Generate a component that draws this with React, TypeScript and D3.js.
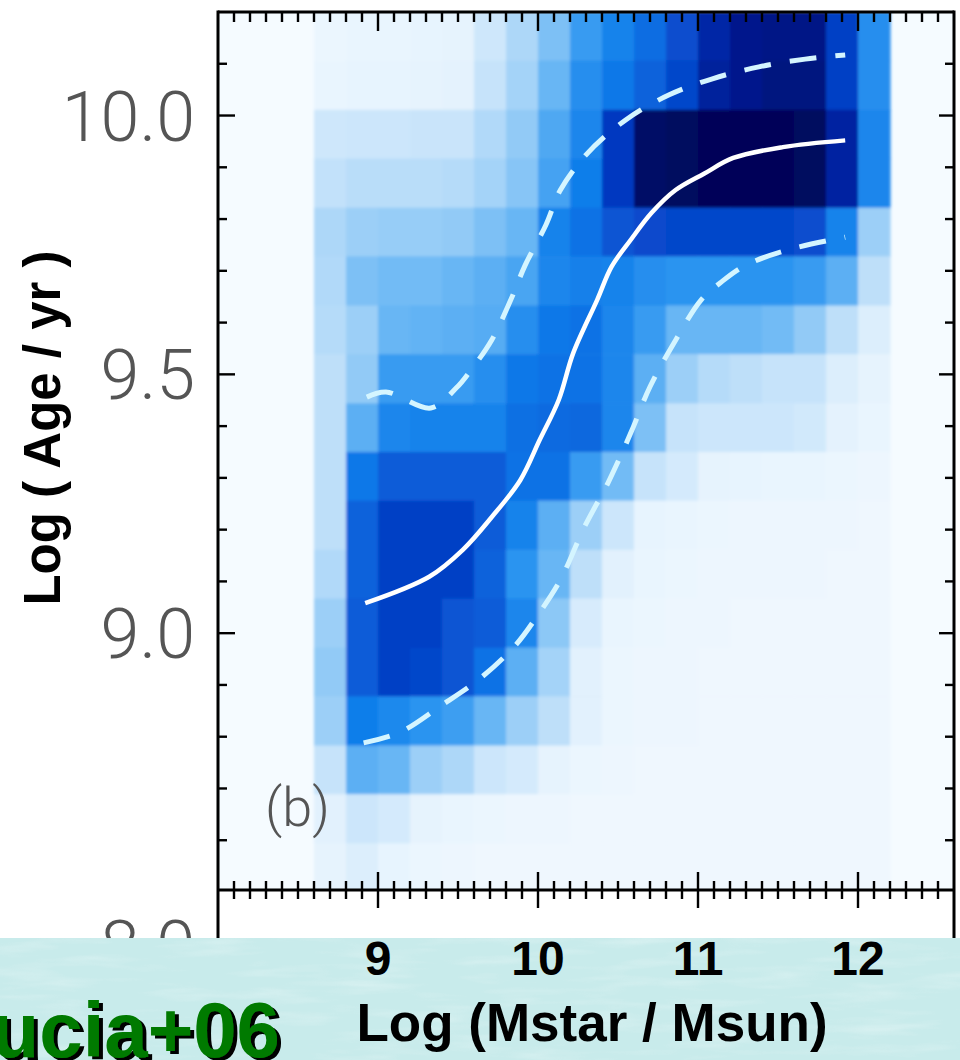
import React from 'react';
import * as d3 from 'd3';

// ---- data -------------------------------------------------------------
// stellar-mass bin edges, log(Mstar/Msun)
const massEdges = [8.6, 8.8, 9.0, 9.2, 9.4, 9.6, 9.8, 10.0, 10.2, 10.4, 10.6, 10.8, 11.0, 11.2, 11.4, 11.6, 11.8, 12.0, 12.2];
// age bin edges, log(Age/yr), from top (old) to bottom (young)
const ageEdges = [10.2, 10.106, 10.011, 9.917, 9.822, 9.728, 9.633, 9.539, 9.444, 9.35, 9.256, 9.161, 9.067, 8.972, 8.878, 8.783, 8.689, 8.594, 8.5];
// normalised density per cell, rows follow ageEdges (top to bottom), columns follow massEdges
const density = [
  [0.05, 0.06, 0.06, 0.07, 0.08, 0.17, 0.26, 0.36, 0.48, 0.56, 0.64, 0.74, 0.85, 0.9, 0.91, 0.91, 0.78, 0.52],
  [0.06, 0.07, 0.07, 0.08, 0.09, 0.2, 0.28, 0.4, 0.52, 0.6, 0.68, 0.76, 0.87, 0.9, 0.92, 0.92, 0.78, 0.52],
  [0.17, 0.18, 0.18, 0.19, 0.19, 0.25, 0.32, 0.44, 0.55, 0.8, 0.96, 0.97, 0.98, 0.98, 0.98, 0.97, 0.86, 0.55],
  [0.21, 0.23, 0.23, 0.23, 0.24, 0.28, 0.34, 0.46, 0.58, 0.8, 0.96, 0.97, 0.98, 0.98, 0.98, 0.97, 0.86, 0.55],
  [0.26, 0.3, 0.31, 0.31, 0.32, 0.36, 0.4, 0.56, 0.62, 0.72, 0.75, 0.76, 0.76, 0.76, 0.76, 0.74, 0.56, 0.3],
  [0.25, 0.36, 0.38, 0.38, 0.4, 0.42, 0.45, 0.55, 0.57, 0.56, 0.52, 0.5, 0.5, 0.5, 0.5, 0.48, 0.42, 0.22],
  [0.24, 0.3, 0.4, 0.41, 0.42, 0.43, 0.52, 0.6, 0.62, 0.55, 0.48, 0.4, 0.4, 0.4, 0.38, 0.32, 0.22, 0.12],
  [0.22, 0.32, 0.48, 0.48, 0.48, 0.52, 0.6, 0.62, 0.62, 0.55, 0.42, 0.3, 0.24, 0.22, 0.2, 0.2, 0.12, 0.08],
  [0.22, 0.42, 0.55, 0.56, 0.56, 0.56, 0.63, 0.65, 0.66, 0.55, 0.36, 0.2, 0.18, 0.18, 0.18, 0.16, 0.09, 0.06],
  [0.22, 0.6, 0.7, 0.7, 0.7, 0.7, 0.62, 0.62, 0.48, 0.38, 0.2, 0.15, 0.08, 0.07, 0.06, 0.06, 0.05, 0.04],
  [0.22, 0.68, 0.78, 0.78, 0.78, 0.7, 0.56, 0.42, 0.3, 0.18, 0.07, 0.06, 0.05, 0.04, 0.04, 0.04, 0.04, 0.03],
  [0.25, 0.68, 0.78, 0.78, 0.78, 0.68, 0.5, 0.4, 0.22, 0.1, 0.06, 0.05, 0.04, 0.04, 0.04, 0.04, 0.03, 0.03],
  [0.3, 0.7, 0.78, 0.78, 0.72, 0.7, 0.55, 0.33, 0.14, 0.06, 0.05, 0.04, 0.04, 0.03, 0.03, 0.03, 0.03, 0.03],
  [0.32, 0.7, 0.78, 0.76, 0.72, 0.62, 0.42, 0.28, 0.1, 0.05, 0.04, 0.04, 0.03, 0.03, 0.03, 0.03, 0.03, 0.03],
  [0.3, 0.58, 0.54, 0.5, 0.47, 0.4, 0.3, 0.22, 0.1, 0.05, 0.04, 0.04, 0.03, 0.03, 0.03, 0.03, 0.03, 0.03],
  [0.2, 0.42, 0.4, 0.3, 0.26, 0.18, 0.15, 0.08, 0.05, 0.04, 0.03, 0.03, 0.03, 0.03, 0.03, 0.03, 0.03, 0.03],
  [0.1, 0.18, 0.15, 0.08, 0.06, 0.05, 0.04, 0.04, 0.03, 0.03, 0.03, 0.03, 0.03, 0.03, 0.03, 0.03, 0.03, 0.03],
  [0.08, 0.12, 0.07, 0.05, 0.04, 0.03, 0.03, 0.03, 0.03, 0.03, 0.03, 0.03, 0.03, 0.03, 0.03, 0.03, 0.03, 0.03],
];

// median relation
const medianMass = [8.92, 9.32, 9.53, 9.71, 9.89, 10.01, 10.13, 10.22, 10.37, 10.46, 10.58, 10.71, 10.86, 11.04, 11.22, 11.53, 11.92];
const medianAge = [9.058, 9.109, 9.161, 9.224, 9.296, 9.373, 9.451, 9.541, 9.644, 9.708, 9.76, 9.812, 9.856, 9.888, 9.918, 9.939, 9.952];
// upper percentile
const upperMass = [8.93, 9.05, 9.33, 9.49, 9.58, 9.71, 9.83, 9.92, 10.05, 10.14, 10.3, 10.55, 10.82, 11.09, 11.38, 11.67, 11.92];
const upperAge = [9.456, 9.466, 9.435, 9.474, 9.508, 9.566, 9.644, 9.711, 9.789, 9.856, 9.924, 9.992, 10.04, 10.071, 10.094, 10.109, 10.117];
// lower percentile
const lowerMass = [8.91, 9.14, 9.39, 9.64, 9.86, 9.99, 10.14, 10.29, 10.44, 10.58, 10.7, 10.86, 11.02, 11.14, 11.3, 11.58, 11.92];
const lowerAge = [8.788, 8.809, 8.859, 8.913, 8.977, 9.031, 9.103, 9.205, 9.292, 9.387, 9.476, 9.566, 9.644, 9.677, 9.711, 9.742, 9.765];

// ticks
const xMajorTicks = [9, 10, 11, 12];
const xTickLabels = ['9', '10', '11', '12'];
const yMajorTicks = [10.0, 9.5, 9.0];
const yTickLabels = ['10.0', '9.5', '9.0'];

// colour map
const colorStops = [0, 0.1, 0.2, 0.3, 0.4, 0.5, 0.6, 0.7, 0.8, 0.9, 1];
const colorValues = ['#f4faff', '#e2f1fd', '#c6e3fa', '#9ccff7', '#68b6f4', '#2c94f0', '#0a78e8', '#085cd8', '#0538c0', '#02168c', '#00004c'];

export default function App() {
  const x = d3.scaleLinear().domain([8.0, 12.6]).range([218, 954]);
  const y = d3.scaleLinear().domain([8.5, 10.2]).range([892, 12]);
  const color = d3.scaleLinear<string>().domain(colorStops).range(colorValues).interpolate(d3.interpolateRgb).clamp(true);

  const L = x(8.0), R = x(12.6), T = y(10.2);
  const axisY = 890;

  const line = d3.line<[number, number]>().x(d => x(d[0])).y(d => y(d[1])).curve(d3.curveCatmullRom.alpha(0.5));
  const med = line(medianMass.map((m, i) => [m, medianAge[i]]));
  const up = line(upperMass.map((m, i) => [m, upperAge[i]]));
  const lo = line(lowerMass.map((m, i) => [m, lowerAge[i]]));

  const xMinor = d3.range(81, 126).map(v => v / 10).filter(v => !xMajorTicks.includes(v));
  const yMinor = d3.range(86, 102).map(v => v / 10).filter(v => !yMajorTicks.includes(v));

  const cells: React.ReactNode[] = [];
  density.forEach((row, r) => {
    row.forEach((v, c) => {
      const x0 = x(massEdges[c]), x1 = x(massEdges[c + 1]);
      const y0 = y(ageEdges[r]), y1 = y(ageEdges[r + 1]);
      cells.push(<rect key={`${r}-${c}`} x={x0} y={y0} width={x1 - x0 + 0.6} height={y1 - y0 + 0.6} fill={color(v)} />);
    });
  });

  const lightFont = 'Roboto, Lato, "DejaVu Sans", sans-serif';
  const boldFont = '"Liberation Sans", Arial, Helvetica, sans-serif';

  return (
    <svg width={960} height={1060} style={{ position: 'absolute', left: 0, top: 0, display: 'block' }}>
      <defs>
        <clipPath id="plotClip">
          <rect x={L} y={T} width={R - L} height={axisY - T} />
        </clipPath>
        <filter id="soft" x="-5%" y="-5%" width="110%" height="110%">
          <feGaussianBlur stdDeviation="1.6" />
        </filter>
        <filter id="paper" x="0" y="0" width="100%" height="100%">
          <feTurbulence type="fractalNoise" baseFrequency="0.012 0.09" numOctaves="3" seed="4" result="n" />
          <feColorMatrix in="n" type="matrix" values="0 0 0 0 1  0 0 0 0 1  0 0 0 0 1  0 0 0 1.6 -0.75" />
        </filter>
        <filter id="shadow" x="-10%" y="-10%" width="130%" height="130%">
          <feDropShadow dx="4" dy="3" stdDeviation="0.3" floodColor="#000" floodOpacity="1" />
        </filter>
      </defs>
      <rect x={0} y={0} width={960} height={1060} fill="#ffffff" />

      {/* plot background and heat map */}
      <rect x={L} y={T} width={R - L} height={axisY - T} fill="#f5fbff" />
      <g clipPath="url(#plotClip)">
        <g filter="url(#soft)">{cells}</g>
      </g>

      {/* percentile and median lines */}
      <g clipPath="url(#plotClip)">
        <path d={up || ''} fill="none" stroke="#d4f5ff" strokeWidth={5} strokeDasharray="27 19" strokeLinecap="butt" />
        <path d={lo || ''} fill="none" stroke="#d4f5ff" strokeWidth={5} strokeDasharray="27 19" strokeLinecap="butt" />
        <path d={med || ''} fill="none" stroke="#ffffff" strokeWidth={4.5} />
      </g>

      {/* frame */}
      <line x1={L} x2={R} y1={T} y2={T} stroke="#000" strokeWidth={3} />
      <line x1={L} x2={L} y1={T - 1.5} y2={940} stroke="#000" strokeWidth={3} />
      <line x1={R} x2={R} y1={T - 1.5} y2={940} stroke="#000" strokeWidth={3} />
      <line x1={L} x2={R} y1={axisY} y2={axisY} stroke="#000" strokeWidth={3} />

      {/* top ticks */}
      {xMinor.map(v => <line key={`tm${v}`} x1={x(v)} x2={x(v)} y1={T} y2={T + 10} stroke="#000" strokeWidth={2.4} />)}
      {xMajorTicks.map(v => <line key={`tM${v}`} x1={x(v)} x2={x(v)} y1={T} y2={T + 19} stroke="#000" strokeWidth={2.4} />)}
      {/* bottom ticks (crossing) */}
      {xMinor.map(v => <line key={`bm${v}`} x1={x(v)} x2={x(v)} y1={axisY - 9} y2={axisY + 9} stroke="#000" strokeWidth={2.4} />)}
      {xMajorTicks.map(v => <line key={`bM${v}`} x1={x(v)} x2={x(v)} y1={axisY - 18} y2={axisY + 18} stroke="#000" strokeWidth={2.4} />)}
      {/* left / right ticks */}
      {yMinor.map(v => <line key={`lm${v}`} x1={L} x2={L + 9} y1={y(v)} y2={y(v)} stroke="#000" strokeWidth={2.4} />)}
      {yMajorTicks.map(v => <line key={`lM${v}`} x1={L} x2={L + 17} y1={y(v)} y2={y(v)} stroke="#000" strokeWidth={2.4} />)}
      {yMinor.map(v => <line key={`rm${v}`} x1={R} x2={R - 9} y1={y(v)} y2={y(v)} stroke="#000" strokeWidth={2.4} />)}
      {yMajorTicks.map(v => <line key={`rM${v}`} x1={R} x2={R - 15} y1={y(v)} y2={y(v)} stroke="#000" strokeWidth={2.4} />)}

      {/* y tick labels */}
      {yMajorTicks.map((v, i) => (
        <text key={`yl${v}`} x={195} y={y(v) + 25} textAnchor="end" fontFamily={lightFont} fontWeight={300} fontSize={70} fill="#555">
          {yTickLabels[i]}
        </text>
      ))}
      <text x={195} y={970} textAnchor="end" fontFamily={lightFont} fontWeight={300} fontSize={70} fill="#555">8.0</text>

      {/* panel label */}
      <text x={265} y={826} fontFamily={lightFont} fontWeight={300} fontSize={54} fill="#555">(b)</text>

      {/* y title */}
      <text transform="translate(60,428) rotate(-90)" textAnchor="middle" fontFamily={boldFont} fontWeight={700} fontSize={51} fill="#000">
        Log ( Age / yr )
      </text>

      {/* slide background band */}
      <rect x={0} y={938} width={960} height={122} fill="#c8ebeb" />
      <rect x={0} y={938} width={960} height={122} filter="url(#paper)" opacity={0.35} />

      {/* x tick labels */}
      {xMajorTicks.map((v, i) => (
        <text key={`xl${v}`} x={x(v)} y={975} textAnchor="middle" fontFamily={boldFont} fontWeight={700} fontSize={48} fill="#000">
          {xTickLabels[i]}
        </text>
      ))}
      {/* x title */}
      <text x={592} y={1041} textAnchor="middle" fontFamily={boldFont} fontWeight={700} fontSize={53} fill="#000">
        Log (Mstar / Msun)
      </text>

      {/* citation */}
      <text x={280} y={1057} textAnchor="end" fontFamily={boldFont} fontWeight={700} fontSize={78} fill="#067a06" filter="url(#shadow)">ucia+06</text>
    </svg>
  );
}
